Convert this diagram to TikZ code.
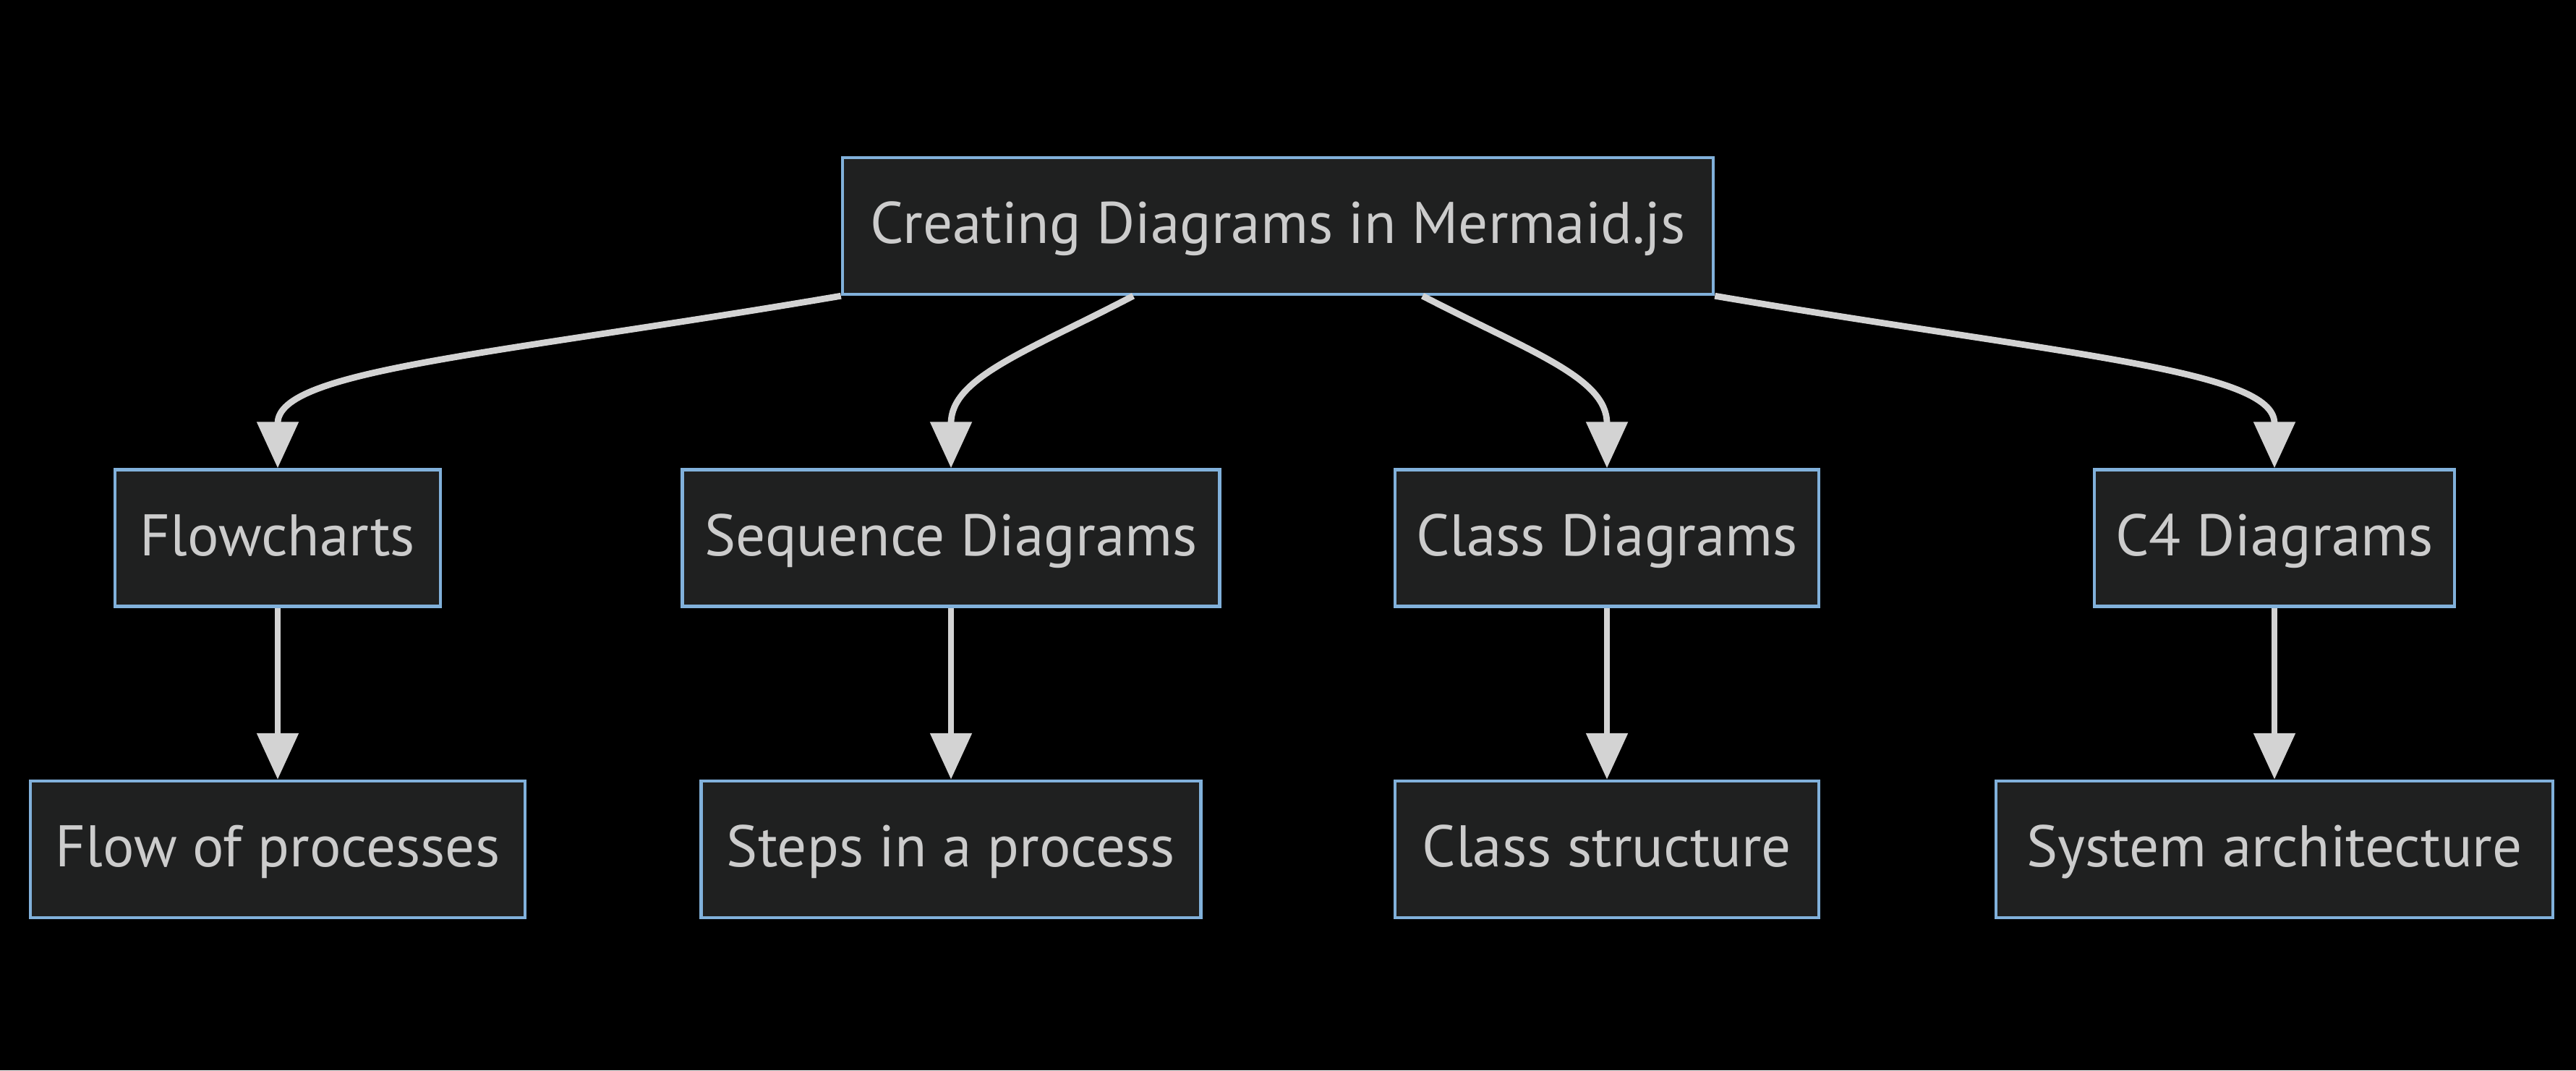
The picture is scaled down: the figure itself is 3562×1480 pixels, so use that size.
\documentclass[tikz,border=0pt]{standalone}
\usepackage{fontspec}
\setmainfont{PT Sans}
\usetikzlibrary{arrows.meta}
\definecolor{bgc}{HTML}{000000}
\definecolor{boxfill}{HTML}{1F2020}
\definecolor{boxline}{HTML}{81B1DB}
\definecolor{edgec}{HTML}{D3D3D3}
\definecolor{txtc}{HTML}{CCCCCC}
\tikzset{
  box/.style={draw=boxline, fill=boxfill, line width=1.1pt, text=txtc,
    minimum height=47.25pt, inner sep=0pt, text height=16pt, text depth=4pt,
    font=\fontsize{20.3}{24}\selectfont},
  edge/.style={draw=edgec, line width=2.2pt,
    -{Triangle[length=16pt,width=14pt]}},
}
\begin{document}
\begin{tikzpicture}[x=0.25pt,y=-0.25pt]
\fill[bgc] (0,0) rectangle (3562,1480);
\useasboundingbox (0,0) rectangle (3562,1480);

\node[box, minimum width=301pt] (top) at (1767,312.5) {Creating Diagrams in Mermaid.js};

\node[box, minimum width=112.5pt] (fc) at (384,744) {Flowcharts};
\node[box, minimum width=185.75pt] (sd) at (1315,744) {Sequence Diagrams};
\node[box, minimum width=146.5pt] (cd) at (2222,744) {Class Diagrams};
\node[box, minimum width=124.5pt] (c4) at (3145,744) {C4 Diagrams};

\node[box, minimum width=171pt] (fp) at (384,1174.5) {Flow of processes};
\node[box, minimum width=172.75pt] (sp) at (1315,1174.5) {Steps in a process};
\node[box, minimum width=146.5pt] (cs) at (2222,1174.5) {Class structure};
\node[box, minimum width=192.5pt] (sa) at (3145,1174.5) {System architecture};

\coordinate (s2) at ([xshift=-50pt]top.south);
\coordinate (s3) at ([xshift=50pt]top.south);

\draw[edge] (top.south west) .. controls (682,491) and (384,511) .. (fc.north);
\draw[edge] (s2) .. controls (1420,486) and (1315,522) .. (sd.north);
\draw[edge] (s3) .. controls (2115,486) and (2222,522) .. (cd.north);
\draw[edge] (top.south east) .. controls (2853,491) and (3145,511) .. (c4.north);

\draw[edge] (fc.south) -- (fp.north);
\draw[edge] (sd.south) -- (sp.north);
\draw[edge] (cd.south) -- (cs.north);
\draw[edge] (c4.south) -- (sa.north);
\end{tikzpicture}
\end{document}
